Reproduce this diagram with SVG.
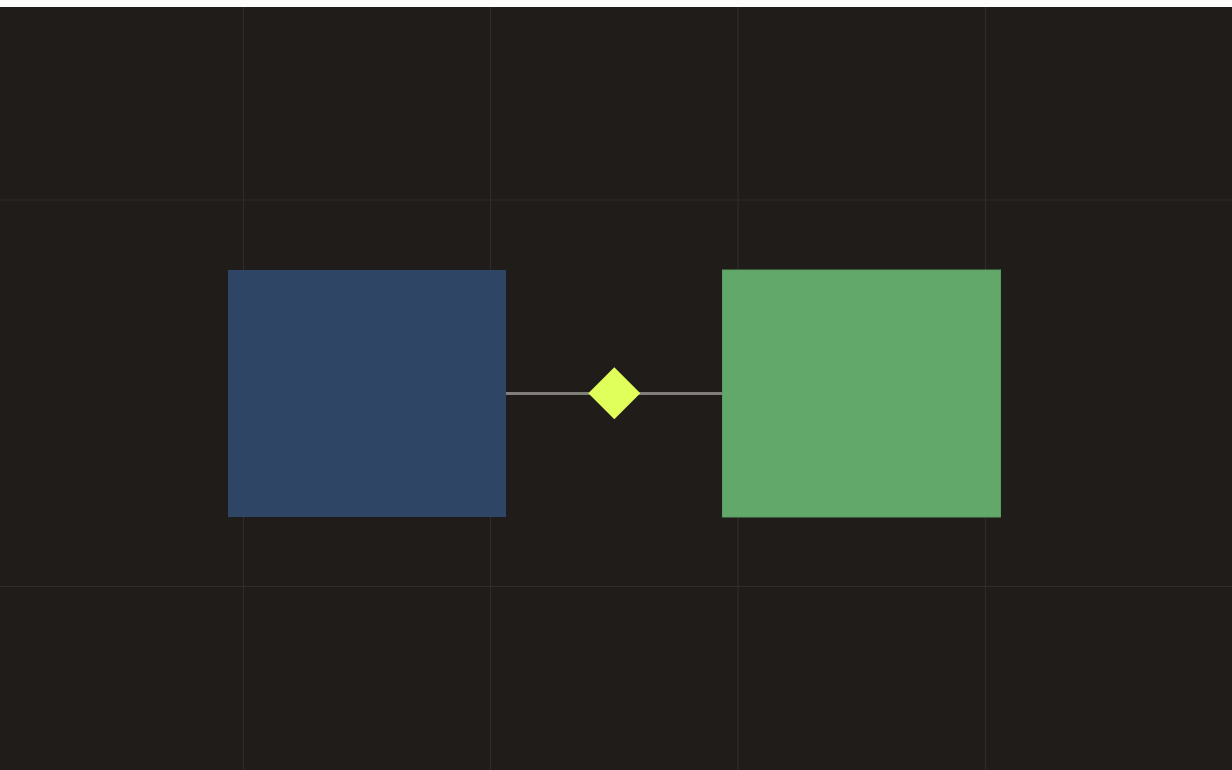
<svg xmlns="http://www.w3.org/2000/svg" width="1232" height="770" viewBox="0 0 1232 770">
  <defs>
    <style>
      .grid { stroke: #2f2c2a; stroke-width: 1.2; fill: none; }
      .edge { stroke: #807e79; stroke-width: 3; fill: none; }
    </style>
  </defs>
  <rect x="0" y="0" width="1232" height="770" fill="#1f1c1a"/>
  <rect x="0" y="0" width="1232" height="7" fill="#fdfcfa"/>
  <g id="grid">
    <line class="grid" x1="243.5" y1="7" x2="243.5" y2="770"/>
    <line class="grid" x1="490.5" y1="7" x2="490.5" y2="770"/>
    <line class="grid" x1="738" y1="7" x2="738" y2="770"/>
    <line class="grid" x1="985.5" y1="7" x2="985.5" y2="770"/>
    <line class="grid" x1="0" y1="200" x2="1232" y2="200"/>
    <line class="grid" x1="0" y1="586.5" x2="1232" y2="586.5"/>
  </g>
  <g id="connectors">
    <line class="edge" x1="506" y1="393.5" x2="722" y2="393.5"/>
  </g>
  <g id="node-blue">
    <rect x="228" y="270" width="278" height="247" fill="#2f4565"/>
  </g>
  <g id="node-green">
    <rect x="722.5" y="270" width="278" height="247" fill="#62a86a" stroke="#5a9c62" stroke-width="1"/>
  </g>
  <g id="node-diamond">
    <polygon points="614.3,367.3 640.3,393.3 614.3,419.3 588.3,393.3" fill="#e1ff5a"/>
  </g>
</svg>
